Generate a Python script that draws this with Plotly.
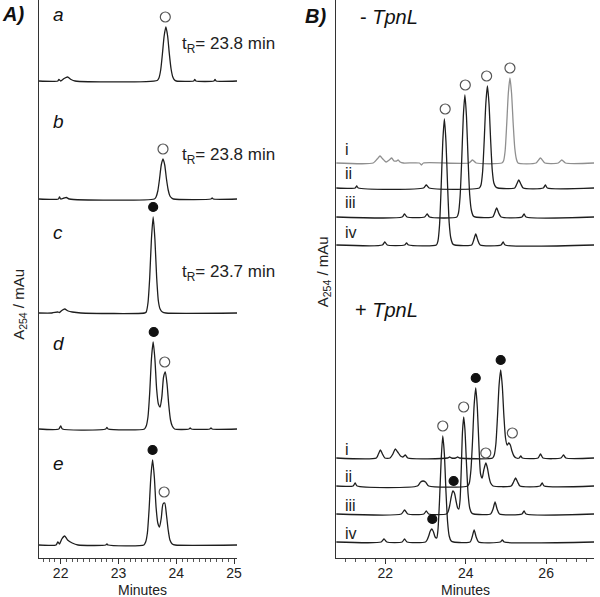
import plotly.graph_objects as go

# ---------------- Panel A data (time in min, absorbance in arbitrary mAu) ----------------
a_t = [21.62, 21.95, 21.97, 22.0, 22.06, 22.12, 22.18, 22.25, 23.67, 23.70, 23.73, 23.76, 23.79, 23.82, 23.85, 23.88, 23.91, 23.94, 23.97, 24.00, 24.30, 24.32, 24.34, 24.65, 24.67, 24.69, 25.05]
a_y = [0, 0, 1.5, 0, 2.5, 4, 1.5, 0, 0.5, 3, 11, 27, 45, 54, 45, 27, 12, 4, 1, 0, 0, 1.5, 0, 0, 1.5, 0, 0]

b_t = [21.62, 21.96, 21.98, 22.0, 22.06, 22.1, 22.15, 23.62, 23.65, 23.68, 23.71, 23.74, 23.77, 23.80, 23.83, 23.86, 23.89, 23.92, 23.95, 24.6, 24.62, 24.64, 25.05]
b_y = [0, 0, 2, 0, 1, 1.5, 0, 0, 2, 8, 20, 34, 40, 34, 20, 9, 3, 1, 0, 0, 1, 0, 0]

c_t = [21.62, 21.85, 21.95, 21.98, 22.02, 22.07, 22.13, 22.2, 22.35, 23.45, 23.48, 23.51, 23.54, 23.57, 23.60, 23.63, 23.66, 23.69, 23.72, 23.76, 23.82, 25.05]
c_y = [0, 0, 1, 0.5, 2.5, 4, 2, 1, 0, 0, 1, 10, 35, 74, 96, 74, 36, 12, 4, 1, 0, 0]

d_t = [21.62, 21.97, 22.0, 22.03, 22.78, 22.8, 22.82, 23.45, 23.48, 23.51, 23.54, 23.57, 23.60, 23.63, 23.66, 23.69, 23.72, 23.75, 23.78, 23.81, 23.84, 23.87, 23.90, 23.93, 23.97, 24.22, 24.24, 24.26, 24.58, 24.6, 24.62, 25.05]
d_y = [0, 0, 3, 0, 0, 1.5, 0, 0, 3, 12, 36, 70, 87, 70, 40, 25, 22, 32, 52, 57, 45, 24, 9, 3, 0, 0, 1.2, 0, 0, 1.2, 0, 0]

e_t = [21.62, 21.92, 21.95, 21.98, 22.02, 22.07, 22.12, 22.2, 22.3, 22.78, 22.8, 22.82, 23.44, 23.47, 23.50, 23.53, 23.56, 23.59, 23.62, 23.65, 23.68, 23.71, 23.74, 23.77, 23.80, 23.83, 23.86, 23.89, 23.93, 23.98, 25.05]
e_y = [0, 0, 3, 1, 6, 9, 5, 2, 0, 0, 1.2, 0, 0, 3, 12, 36, 68, 85, 68, 38, 22, 18, 27, 41, 42, 30, 15, 5, 1, 0, 0]

A_labels = ["a", "b", "c", "d", "e"]
A_tR = ["23.8", "23.8", "23.7", None, None]

# marked peaks in panel A: (trace index, time, peak height, filled?)
A_mark_idx = [0, 1, 2, 3, 3, 4, 4]
A_mark_t = [23.81, 23.77, 23.60, 23.61, 23.80, 23.59, 23.79]
A_mark_h = [54, 40, 96, 87, 57, 85, 43]
A_mark_fill = [False, False, True, True, False, True, False]

# ---------------- Panel B data ----------------
# - TpnL
m1_t = [20.78, 21.7, 21.8, 21.87, 21.94, 22.02, 22.1, 22.16, 22.22, 22.28, 22.32, 22.37, 22.45, 22.85, 22.9, 22.95, 24.08, 24.17, 24.26, 24.90, 24.94, 24.98, 25.02, 25.06, 25.10, 25.14, 25.18, 25.22, 25.26, 25.30, 25.75, 25.86, 25.97, 26.3, 26.39, 26.48, 27.19]
m1_y = [0, 0, 4, 7, 4, 1, 3, 5, 2, 2, 3, 1, 0, 0, -2, 0, 0, 3, 0, 0, 2, 12, 39, 70, 85, 70, 40, 15, 4, 0, 0, 5, 0, 0, 3, 0, 0]
m2_t = [20.78, 21.25, 21.29, 21.33, 22.95, 23.02, 23.09, 24.34, 24.38, 24.42, 24.46, 24.50, 24.54, 24.58, 24.62, 24.66, 24.70, 24.75, 24.80, 25.22, 25.27, 25.32, 25.37, 25.43, 25.93, 25.98, 26.03, 27.19]
m2_y = [0, 0, 2, 0, 0, 3, 0, 0, 3, 16, 47, 84, 102, 84, 48, 18, 5, 1, 0, 0, 4, 8, 4, 0, 0, 3, 0, 0]
m3_t = [20.78, 22.42, 22.48, 22.54, 22.98, 23.04, 23.1, 23.78, 23.82, 23.86, 23.90, 23.94, 23.98, 24.02, 24.06, 24.10, 24.14, 24.19, 24.24, 24.67, 24.72, 24.77, 24.82, 24.88, 25.40, 25.45, 25.50, 27.19]
m3_y = [0, 0, 3, 0, 0, 3, 0, 0, 4, 20, 56, 100, 122, 100, 57, 22, 7, 1, 0, 0, 4, 9, 4, 0, 0, 3, 0, 0]
m4_t = [20.78, 21.93, 21.99, 22.05, 22.48, 22.53, 22.58, 23.27, 23.31, 23.35, 23.39, 23.43, 23.47, 23.51, 23.55, 23.59, 23.63, 23.68, 23.73, 24.15, 24.20, 24.25, 24.30, 24.36, 24.88, 24.93, 24.98, 27.19]
m4_y = [0, 0, 3, 0, 0, 2, 0, 0, 4, 20, 58, 103, 126, 103, 59, 22, 7, 1, 0, 0, 5, 11, 5, 0, 0, 3, 0, 0]

# + TpnL
p1_t = [20.78, 21.78, 21.83, 21.88, 21.93, 21.99, 22.12, 22.19, 22.25, 22.31, 22.38, 22.44, 22.5, 22.56, 23.55, 23.6, 23.65, 23.75, 23.8, 23.85, 24.67, 24.71, 24.75, 24.79, 24.83, 24.87, 24.91, 24.95, 24.99, 25.03, 25.07, 25.11, 25.15, 25.20, 25.26, 25.33, 25.37, 25.41, 25.8, 25.86, 25.92, 26.37, 26.43, 26.49, 27.19]
p1_y = [0, 0, 4, 8, 4, 0, 0, 4, 9, 6, 2, 1, 3, 0, 0, 1, 0, 0, 1, 0, 0, 3, 14, 41, 73, 88, 72, 42, 20, 13, 15, 13, 7, 2, 0, 0, 2, 0, 0, 4, 0, 0, 3, 0, 0]
p2_t = [20.78, 21.2, 21.25, 21.3, 22.8, 22.88, 22.94, 23.0, 23.08, 24.05, 24.09, 24.13, 24.17, 24.21, 24.25, 24.29, 24.33, 24.37, 24.41, 24.45, 24.50, 24.54, 24.58, 24.62, 24.68, 25.13, 25.19, 25.24, 25.29, 25.35, 25.85, 25.9, 25.95, 27.19]
p2_y = [0, 0, 3, 0, 0, 4, 5, 4, 0, 0, 3, 16, 45, 81, 98, 78, 40, 12, 8, 16, 23, 18, 9, 3, 0, 0, 4, 8, 4, 0, 0, 3, 0, 0]
p3_t = [20.78, 22.4, 22.48, 22.56, 22.96, 23.02, 23.08, 23.52, 23.56, 23.60, 23.64, 23.68, 23.72, 23.76, 23.80, 23.83, 23.86, 23.89, 23.92, 23.95, 23.98, 24.02, 24.06, 24.10, 24.15, 24.20, 24.62, 24.68, 24.73, 24.78, 24.84, 25.40, 25.45, 25.50, 27.19]
p3_y = [0, 0, 4, 0, 0, 3, 0, 0, 2, 8, 17, 23, 21, 13, 6, 5, 14, 45, 82, 97, 85, 50, 20, 6, 1, 0, 0, 5, 12, 5, 0, 0, 3, 0, 0]
p4_t = [20.78, 21.9, 21.97, 22.04, 22.42, 22.48, 22.54, 23.00, 23.04, 23.08, 23.12, 23.16, 23.20, 23.24, 23.28, 23.31, 23.35, 23.39, 23.43, 23.47, 23.51, 23.55, 23.59, 23.64, 23.70, 24.11, 24.16, 24.21, 24.26, 24.32, 24.86, 24.91, 24.96, 27.19]
p4_y = [0, 0, 3, 0, 0, 3, 0, 0, 2, 6, 11, 13, 10, 5, 4, 12, 42, 82, 106, 88, 50, 20, 6, 1, 0, 0, 5, 12, 5, 0, 0, 2, 0, 0]

B_labels = ["i", "ii", "iii", "iv"]

# marked peaks in panel B: (trace index 0-7, time, peak height, filled?)
B_mark_idx = [0, 1, 2, 3, 4, 4, 5, 5, 6, 6, 7, 7]
B_mark_t = [25.10, 24.52, 23.99, 23.49, 24.87, 25.16, 24.25, 24.50, 23.95, 23.70, 23.43, 23.17]
B_mark_h = [85, 102, 122, 126, 88, 15, 98, 23, 97, 23, 106, 13]
B_mark_fill = [False, False, False, False, True, False, True, False, False, True, False, True]

# ---------------- layout constants ----------------
W, H = 600, 597
PLOT_H = 558          # plot area height in px (margin bottom 39)
A_off = [477, 359, 245, 129, 13]            # baselines of a..e
B_off = [395, 370, 341, 313, 100, 72, 44, 16]  # baselines of i..iv (-), i..iv (+)
GAP = 10
LINE = "#1e1e1e"
FONT = "Arial, Liberation Sans, sans-serif"


def px(x):
    return x / W


def py(y):
    return (PLOT_H - y) / PLOT_H


fig = go.Figure()

A_series = [(a_t, a_y), (b_t, b_y), (c_t, c_y), (d_t, d_y), (e_t, e_y)]
for (t, y), off in zip(A_series, A_off):
    fig.add_trace(go.Scatter(x=t, y=[v + off for v in y], mode="lines",
                             line=dict(color=LINE, width=1.3, shape="spline", smoothing=0.6),
                             xaxis="x", yaxis="y", hoverinfo="skip", showlegend=False))

B_series = [(m1_t, m1_y), (m2_t, m2_y), (m3_t, m3_y), (m4_t, m4_y),
            (p1_t, p1_y), (p2_t, p2_y), (p3_t, p3_y), (p4_t, p4_y)]
for k, ((t, y), off) in enumerate(zip(B_series, B_off)):
    col = "#8f8f8f" if k == 0 else LINE
    fig.add_trace(go.Scatter(x=t, y=[v + off for v in y], mode="lines",
                             line=dict(color=col, width=1.3, shape="spline", smoothing=0.6),
                             xaxis="x2", yaxis="y2", hoverinfo="skip", showlegend=False))


def add_marks(idx, ts, hs, fills, offs, xa, ya):
    for filled in (True, False):
        xs = [t for i, t, h, f in zip(idx, ts, hs, fills) if f == filled]
        ys = [offs[i] + h + GAP for i, t, h, f in zip(idx, ts, hs, fills) if f == filled]
        fig.add_trace(go.Scatter(
            x=xs, y=ys, mode="markers", xaxis=xa, yaxis=ya, hoverinfo="skip", showlegend=False,
            marker=dict(symbol="circle", size=9 if filled else 10,
                        color="#111111" if filled else "white",
                        line=dict(color="#111111" if filled else "#555555", width=1.2))))


add_marks(A_mark_idx, A_mark_t, A_mark_h, A_mark_fill, A_off, "x", "y")
add_marks(B_mark_idx, B_mark_t, B_mark_h, B_mark_fill, B_off, "x2", "y2")

axis_common = dict(showline=True, linecolor="#333333", linewidth=1.2, showgrid=False,
                   zeroline=False, ticks="outside", ticklen=5, tickcolor="#333333",
                   ticklabelstandoff=-3,
                   tickfont=dict(size=14, family=FONT, color="#222222"))

fig.update_layout(
    width=W, height=H, margin=dict(l=0, r=0, t=0, b=H - PLOT_H),
    paper_bgcolor="white", plot_bgcolor="white",
    xaxis=dict(domain=[px(39), px(239)], range=[21.62, 25.05], tickmode="linear", tick0=22, dtick=1,
               minor=dict(ticks="outside", ticklen=3, tick0=22, dtick=0.1, tickcolor="#555555"),
               anchor="y", **axis_common),
    yaxis=dict(domain=[0, 1], range=[0, PLOT_H], showline=True, linecolor="#333333", linewidth=1.2,
               showticklabels=False, ticks="", showgrid=False, zeroline=False, anchor="x"),
    xaxis2=dict(domain=[px(339), px(599)], range=[20.78, 27.19], tickmode="linear", tick0=22, dtick=2,
                minor=dict(ticks="outside", ticklen=3, tick0=22, dtick=0.25, tickcolor="#555555"),
                anchor="y2", **axis_common),
    yaxis2=dict(domain=[0, 1], range=[0, PLOT_H], showline=True, linecolor="#333333", linewidth=1.2,
                showticklabels=False, ticks="", showgrid=False, zeroline=False, anchor="x2"),
)

ann = []


def text(x, y, s, size, xanchor="center", angle=0, color="#111111"):
    ann.append(dict(x=px(x), y=py(y), xref="paper", yref="paper", text=s, showarrow=False,
                    xanchor=xanchor, yanchor="middle", textangle=angle,
                    font=dict(size=size, family=FONT, color=color)))


# panel tags
text(13, 14, "<b><i>A)</i></b>", 20)
text(318, 16, "<b><i>B)</i></b>", 20)

# panel A letters and retention times
A_label_y = [15, 121, 232, 343, 463]
for lab, yy in zip(A_labels, A_label_y):
    text(51, yy, "<i>%s</i>" % lab, 19, xanchor="left")
A_tR_y = [45, 156, 273]
for tr, yy in zip(A_tR, A_tR_y):
    if tr:
        text(182, yy, "t<sub>R</sub>= %s min" % tr, 17, xanchor="left", color="#222222")

# panel B headers and numerals
text(392, 17, "- <i>TpnL</i>", 20)
text(390, 310, "+ <i>TpnL</i>", 20)
B_top_y = [149, 173, 202, 232]
B_bot_y = [449, 476, 505, 533]
for lab, yy in zip(B_labels, B_top_y):
    text(346, yy, lab, 16, xanchor="left", color="#222222")
for lab, yy in zip(B_labels, B_bot_y):
    text(346, yy, lab, 16, xanchor="left", color="#222222")

# axis titles
text(19, 304, "A<sub>254</sub> / mAu", 15, angle=-90, color="#222222")
text(326, 272, "A<sub>254</sub> / mAu", 15, angle=-90, color="#222222")
text(144, 590, "Minutes", 14, color="#222222")
text(469, 590, "Minutes", 14, color="#222222")

fig.update_layout(annotations=ann)
fig.write_html("out.html", config={"displayModeBar": False},
               post_script="document.body.style.margin='0px';document.body.style.padding='0px';")
